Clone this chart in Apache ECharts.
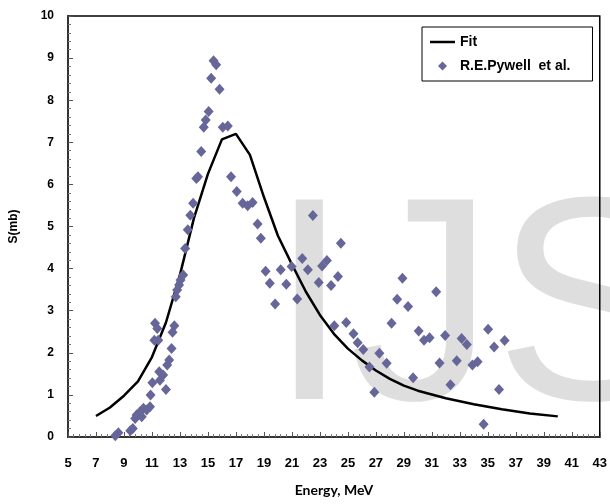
<!DOCTYPE html>
<html>
<head>
<meta charset="utf-8">
<script src="https://cdn.jsdelivr.net/npm/echarts@6/dist/echarts.min.js"></script>
<style>
  html,body{margin:0;padding:0;background:#fff;}
  #chart{width:610px;height:504px;}
</style>
</head>
<body>
<div id="chart"></div>
<script>
// Fit curve
var fitE = [7,8,9,10,11,12,13,14,15,16,17,18,19,20,21,22,23,24,25,26,27,28,29,30,32,34,36,38,40];
var fitS = [0.5,0.7,0.98,1.32,1.9,2.72,3.85,5.2,6.25,7.07,7.2,6.7,5.7,4.78,4.1,3.45,2.9,2.45,2.1,1.82,1.58,1.38,1.22,1.1,0.92,0.78,0.66,0.56,0.49];

// R.E.Pywell et al. data
var expE = [8.38,8.6,9.45,9.63,9.8,9.9,10.15,10.27,10.39,10.62,10.86,10.9,11.03,11.52,11.57,11.8,12.0,12.09,12.23,12.4,
  11.17,11.45,11.22,11.38,12.47,12.6,12.7,12.8,12.94,13.04,13.23,13.37,13.56,13.74,13.94,14.17,14.29,14.52,14.7,14.84,
  15.05,15.23,15.4,15.59,15.83,16.06,16.42,16.65,17.06,17.48,17.84,18.19,18.55,18.78,19.12,19.42,19.8,20.2,20.6,20.98,
  21.38,21.74,22.14,22.5,22.92,23.16,23.5,23.8,24.03,24.29,24.5,24.88,25.4,25.7,26.1,26.54,26.89,27.25,27.77,28.12,
  28.52,28.9,29.3,29.66,30.06,30.44,30.84,31.31,31.55,31.95,32.33,32.78,33.13,33.5,33.9,34.27,34.7,35.02,35.45,35.8,36.2];
var expS = [0.03,0.1,0.15,0.2,0.44,0.52,0.6,0.48,0.68,0.64,0.72,1.0,1.29,1.55,1.35,1.47,1.13,1.71,1.83,2.1,
  2.3,2.3,2.7,2.58,2.49,2.64,3.33,3.49,3.61,3.73,3.85,4.48,4.92,5.27,5.55,6.14,6.18,6.78,7.36,7.53,
  7.73,8.52,8.94,8.84,8.26,7.36,7.39,6.18,5.83,5.55,5.49,5.57,5.06,4.72,3.94,3.65,3.16,3.97,3.63,4.05,
  3.28,4.24,3.97,5.26,3.67,4.06,4.19,3.6,2.64,3.81,4.6,2.72,2.45,2.24,2.08,1.66,1.06,1.99,1.75,2.7,
  3.27,3.77,3.1,1.41,2.52,2.3,2.36,3.45,1.76,2.41,1.24,1.81,2.34,2.2,1.71,1.79,0.3,2.56,2.14,1.13,2.29];

var xTicks = {min:5, max:43, step:2};
var yTicks = {min:0, max:10, step:1};

function pairs(a,b){
  var out=[];
  for(var i=0;i<a.length;i++){ out.push([a[i],b[i]]); }
  return out;
}

var myChart = echarts.init(document.getElementById('chart'));

var boldFont = 'Liberation Sans, Arial, sans-serif';

var option = {
  animation:false,
  backgroundColor:'#fff',
  grid:{
    left:64, right:10, top:16, bottom:67,
    show:true, borderColor:'#000', borderWidth:1.5, backgroundColor:'transparent'
  },
  //水印
  graphic:[{
    type:'text', left:269, top:174, z:-10, silent:true,
    style:{ text:'IJS', fill:'#dedede', font:'290px Liberation Sans, Arial, sans-serif' }
  }],
  legend:{
    left:422, top:27, orient:'vertical',
    padding:[8,22,8,8], itemGap:10, itemWidth:25, itemHeight:9,
    symbolKeepAspect:true,
    borderColor:'#000', borderWidth:1, backgroundColor:'#fff',
    textStyle:{ fontFamily:boldFont, fontWeight:'bold', fontSize:14, color:'#000' },
    data:[
      {name:'Fit', icon:'path://M0,0 H25 V2.5 H0 Z'},
      {name:'R.E.Pywell  et al.', icon:'path://M5,0 L10,5 L5,10 L0,5 Z'}
    ]
  },
  xAxis:{
    type:'value', min:xTicks.min, max:xTicks.max, interval:xTicks.step,
    name:'Energy, MeV', nameLocation:'middle', nameGap:46,
    nameTextStyle:{ fontFamily:'Lato, Open Sans, sans-serif', fontWeight:'bold', fontSize:14, color:'#000' },
    axisLine:{ lineStyle:{ color:'#333', width:2 } },
    axisTick:{ inside:true, length:5, lineStyle:{ color:'#555' } },
    minorTick:{ show:true, splitNumber:5, length:3, lineStyle:{ color:'#777' } },
    splitLine:{ show:false },
    axisLabel:{ margin:20, fontFamily:boldFont, fontWeight:'bold', fontSize:13, color:'#000' }
  },
  yAxis:{
    type:'value', min:yTicks.min, max:yTicks.max, interval:yTicks.step,
    name:'S(mb)', nameLocation:'middle', nameGap:48,
    nameTextStyle:{ fontFamily:boldFont, fontWeight:'bold', fontSize:12, color:'#000' },
    axisLine:{ show:true, lineStyle:{ color:'#333', width:2 } },
    axisTick:{ show:true, inside:true, length:5, lineStyle:{ color:'#555' } },
    minorTick:{ show:true, splitNumber:5, length:3, lineStyle:{ color:'#777' } },
    splitLine:{ show:false },
    axisLabel:{ margin:14, fontFamily:boldFont, fontWeight:'bold', fontSize:12, color:'#000' }
  },
  series:[
    {
      name:'Fit', type:'line', data:pairs(fitE,fitS),
      symbol:'none', smooth:false,
      lineStyle:{ color:'#000', width:2.5 },
      itemStyle:{ color:'#000' }, z:3
    },
    {
      name:'R.E.Pywell  et al.', type:'scatter', data:pairs(expE,expS),
      symbol:'diamond', symbolSize:[10,11],
      itemStyle:{ color:'#666699', opacity:1 }, z:4
    }
  ]
};

myChart.setOption(option);
window.onresize = myChart.resize;
</script>
</body>
</html>
